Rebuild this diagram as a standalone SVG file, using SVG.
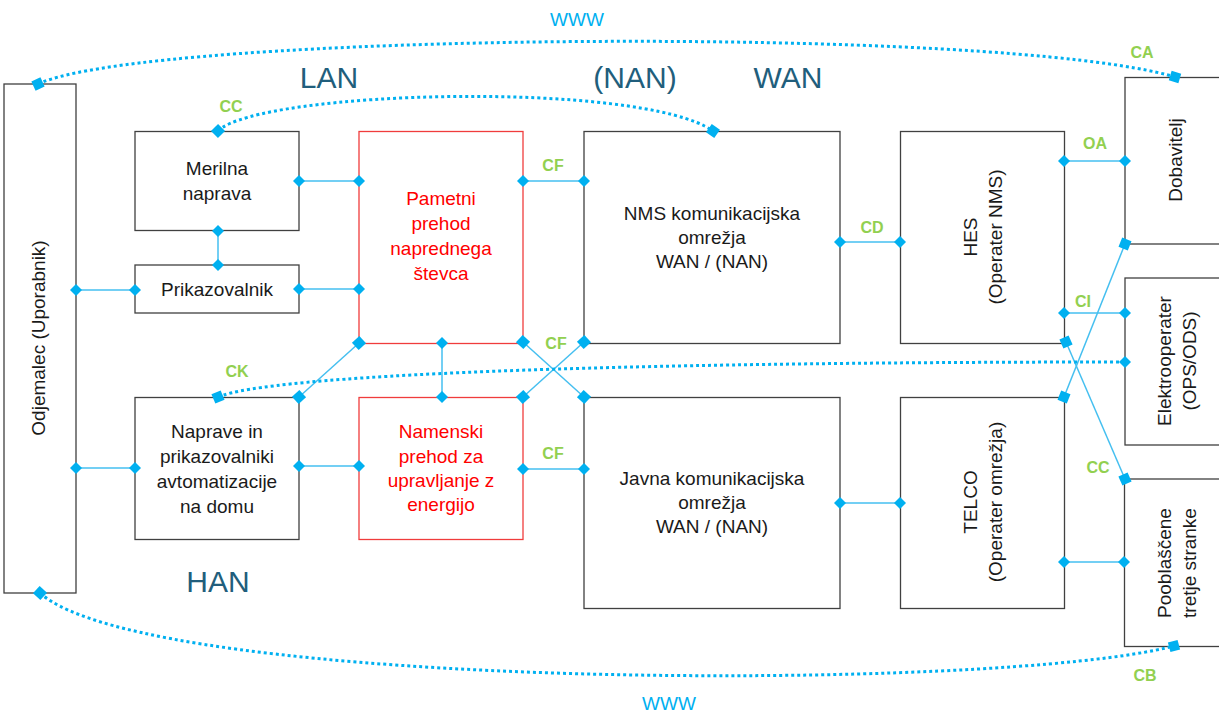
<svg xmlns="http://www.w3.org/2000/svg" width="1219" height="712" viewBox="0 0 1219 712">
<style>
  .box{fill:#fff;stroke:#404040;stroke-width:1.3}
  .rbox{fill:#fff;stroke:#f03c3c;stroke-width:1.3}
  .t{font-family:"Liberation Sans",Arial,sans-serif;font-size:19px;fill:#1a1a1a;text-anchor:middle}
  .rt{font-family:"Liberation Sans",Arial,sans-serif;font-size:19px;fill:#ff0000;text-anchor:middle}
  .lbl{font-family:"Liberation Sans",Arial,sans-serif;font-size:16px;font-weight:bold;fill:#92d050;text-anchor:middle}
  .net{font-family:"Liberation Sans",Arial,sans-serif;font-size:30px;fill:#215e7c;text-anchor:middle}
  .www{font-family:"Liberation Sans",Arial,sans-serif;font-size:19px;fill:#00b0f0;text-anchor:middle}
  .ln{fill:none;stroke:#45bff0;stroke-width:1.5}
  .dot{fill:none;stroke:#00b0f0;stroke-width:3;stroke-dasharray:3 3}
</style>
<defs>
  <marker id="dia" markerUnits="userSpaceOnUse" viewBox="-7 -7 14 14" markerWidth="14" markerHeight="14" refX="0" refY="0" orient="auto">
    <path d="M0,-6 L6,0 L0,6 L-6,0 Z" fill="#00b0f0"/>
  </marker>
  <marker id="sq" markerUnits="userSpaceOnUse" viewBox="-7 -7 14 14" markerWidth="14" markerHeight="14" refX="0" refY="0" orient="auto">
    <rect x="-5" y="-5" width="10" height="10" fill="#00b0f0"/>
  </marker>
</defs>
<rect width="1219" height="712" fill="#fff"/>

<g id="odjemalec">
  <rect class="box" x="4" y="84" width="72" height="509"/>
  <text class="t" transform="translate(38,338) rotate(-90)" x="0" y="7">Odjemalec (Uporabnik)</text>
</g>
<g id="merilna">
  <rect class="box" x="135" y="131.5" width="164" height="99"/>
  <text class="t" x="217" y="175">Merilna</text>
  <text class="t" x="217" y="200">naprava</text>
</g>
<g id="prikazovalnik">
  <rect class="box" x="135" y="265" width="164" height="48"/>
  <text class="t" x="217" y="296">Prikazovalnik</text>
</g>
<g id="pametni">
  <rect class="rbox" x="359" y="131.5" width="164" height="212"/>
  <text class="rt" x="441" y="205">Pametni</text>
  <text class="rt" x="441" y="230">prehod</text>
  <text class="rt" x="441" y="255">naprednega</text>
  <text class="rt" x="441" y="280">števca</text>
</g>
<g id="nms">
  <rect class="box" x="584" y="131.5" width="256" height="212"/>
  <text class="t" x="712" y="220">NMS komunikacijska</text>
  <text class="t" x="712" y="244">omrežja</text>
  <text class="t" x="712" y="268">WAN / (NAN)</text>
</g>
<g id="hes">
  <rect class="box" x="900.5" y="131.5" width="164" height="212"/>
  <g transform="translate(982,237) rotate(-90)">
    <text class="t" x="0" y="-5">HES</text>
    <text class="t" x="0" y="20">(Operater NMS)</text>
  </g>
</g>
<g id="dobavitelj">
  <rect class="box" x="1125" y="77.5" width="110" height="166.5"/>
  <text class="t" transform="translate(1175,160) rotate(-90)" x="0" y="6.5">Dobavitelj</text>
</g>
<g id="elektrooperater">
  <rect class="box" x="1125" y="278" width="110" height="167"/>
  <g transform="translate(1176,361) rotate(-90)">
    <text class="t" x="0" y="-5.5">Elektrooperater</text>
    <text class="t" x="0" y="19.5">(OPS/ODS)</text>
  </g>
</g>
<g id="naprave">
  <rect class="box" x="135" y="397.5" width="164" height="142"/>
  <text class="t" x="217" y="438">Naprave in</text>
  <text class="t" x="217" y="463">prikazovalniki</text>
  <text class="t" x="217" y="488">avtomatizacije</text>
  <text class="t" x="217" y="513">na domu</text>
</g>
<g id="namenski">
  <rect class="rbox" x="359" y="397.5" width="164" height="142"/>
  <text class="rt" x="441" y="438">Namenski</text>
  <text class="rt" x="441" y="463">prehod za</text>
  <text class="rt" x="441" y="487">upravljanje z</text>
  <text class="rt" x="441" y="511">energijo</text>
</g>
<g id="javna">
  <rect class="box" x="584" y="397.5" width="256" height="211"/>
  <text class="t" x="712" y="485">Javna komunikacijska</text>
  <text class="t" x="712" y="509">omrežja</text>
  <text class="t" x="712" y="533">WAN / (NAN)</text>
</g>
<g id="telco">
  <rect class="box" x="900.5" y="397.5" width="164" height="211"/>
  <g transform="translate(982,502) rotate(-90)">
    <text class="t" x="0" y="-5">TELCO</text>
    <text class="t" x="0" y="20">(Operater omrežja)</text>
  </g>
</g>
<g id="pooblascene">
  <rect class="box" x="1124.5" y="479" width="110" height="167.5"/>
  <g transform="translate(1176,563) rotate(-90)">
    <text class="t" x="0" y="-5.5">Pooblaščene</text>
    <text class="t" x="0" y="19.5">tretje stranke</text>
  </g>
</g>

<g id="connectors">
  <line class="ln" x1="299" y1="181" x2="359" y2="181" marker-start="url(#dia)" marker-end="url(#dia)"/>
  <line class="ln" x1="218" y1="231" x2="218" y2="265" marker-start="url(#dia)" marker-end="url(#dia)"/>
  <line class="ln" x1="299" y1="289" x2="359" y2="289" marker-start="url(#dia)" marker-end="url(#dia)"/>
  <line class="ln" x1="76" y1="290" x2="135" y2="290" marker-start="url(#dia)" marker-end="url(#dia)"/>
  <line class="ln" x1="76" y1="468" x2="135" y2="468" marker-start="url(#dia)" marker-end="url(#dia)"/>
  <line class="ln" x1="299" y1="466" x2="359" y2="466" marker-start="url(#dia)" marker-end="url(#dia)"/>
  <line class="ln" x1="523" y1="181" x2="584" y2="181" marker-start="url(#dia)" marker-end="url(#dia)"/>
  <line class="ln" x1="442" y1="343" x2="442" y2="397" marker-start="url(#dia)" marker-end="url(#dia)"/>
  <line class="ln" x1="359" y1="343" x2="299" y2="397" marker-start="url(#sq)" marker-end="url(#sq)"/>
  <line class="ln" x1="523" y1="342" x2="584" y2="397" marker-start="url(#sq)" marker-end="url(#sq)"/>
  <line class="ln" x1="584" y1="342" x2="523" y2="397" marker-start="url(#sq)" marker-end="url(#sq)"/>
  <line class="ln" x1="523" y1="469" x2="584" y2="469" marker-start="url(#dia)" marker-end="url(#dia)"/>
  <line class="ln" x1="840" y1="242" x2="900" y2="242" marker-start="url(#dia)" marker-end="url(#dia)"/>
  <line class="ln" x1="840" y1="503" x2="900" y2="503" marker-start="url(#dia)" marker-end="url(#dia)"/>
  <line class="ln" x1="1064" y1="161" x2="1125" y2="161" marker-start="url(#dia)" marker-end="url(#dia)"/>
  <line class="ln" x1="1064" y1="313" x2="1125" y2="313" marker-start="url(#dia)" marker-end="url(#dia)"/>
  <line class="ln" x1="1066" y1="342" x2="1125" y2="479" marker-start="url(#sq)" marker-end="url(#sq)"/>
  <line class="ln" x1="1064" y1="397" x2="1125" y2="244" marker-start="url(#sq)" marker-end="url(#sq)"/>
  <line class="ln" x1="1064" y1="562" x2="1124" y2="562" marker-start="url(#dia)" marker-end="url(#dia)"/>

  <path class="dot" d="M38,84 C150,32 1000,25 1175,77" marker-start="url(#sq)" marker-end="url(#sq)"/>
  <path class="dot" d="M218,131 C260,90 640,80 713,131" marker-start="url(#sq)" marker-end="url(#sq)"/>
  <path class="dot" d="M218,397 C270,375 600,362 1125,362" marker-start="url(#sq)" marker-end="url(#dia)"/>
  <path class="dot" d="M40,593 C150,692 1000,692 1174,646" marker-start="url(#sq)" marker-end="url(#sq)"/>

  <text class="lbl" x="231" y="112">CC</text>
  <text class="lbl" x="553" y="171">CF</text>
  <text class="lbl" x="556" y="349">CF</text>
  <text class="lbl" x="553" y="459">CF</text>
  <text class="lbl" x="237" y="377">CK</text>
  <text class="lbl" x="872" y="233">CD</text>
  <text class="lbl" x="1095" y="149">OA</text>
  <text class="lbl" x="1083" y="307">CI</text>
  <text class="lbl" x="1098" y="473">CC</text>
  <text class="lbl" x="1142" y="58">CA</text>
  <text class="lbl" x="1145" y="681">CB</text>
</g>

<g id="labels">
  <text class="net" x="329" y="88">LAN</text>
  <text class="net" x="635" y="88">(NAN)</text>
  <text class="net" x="788" y="88">WAN</text>
  <text class="net" x="218" y="592">HAN</text>
  <text class="www" x="577" y="26">WWW</text>
  <text class="www" x="669" y="710">WWW</text>
</g>
</svg>
